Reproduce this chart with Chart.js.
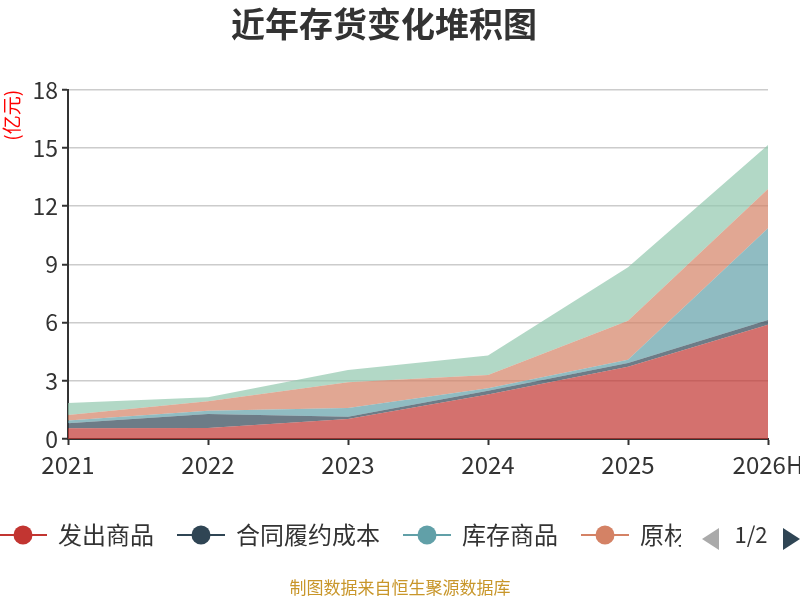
<!DOCTYPE html>
<html>
<head>
<meta charset="utf-8">
<script src="https://cdn.jsdelivr.net/npm/chart.js@4/dist/chart.umd.min.js"></script>
<style>
  html, body { margin: 0; padding: 0; background: #fff; }
  #wrap { width: 800px; height: 600px; }
</style>
</head>
<body>
<div id="wrap"><canvas id="invChart" width="800" height="600"></canvas></div>
<script>
var years = ['2021', '2022', '2023', '2024', '2025', '2026H'];
var faChuShangPin = [0.55, 0.57, 1.03, 2.30, 3.73, 5.89];
var heTongLvYue = [0.26, 0.72, 0.12, 0.19, 0.19, 0.24];
var kuCunShangPin = [0.14, 0.17, 0.45, 0.12, 0.17, 4.73];
var yuanCaiLiao = [0.29, 0.48, 1.32, 0.69, 2.01, 2.03];
var zaiChanPin = [0.62, 0.21, 0.64, 1.00, 2.75, 2.26];

var seriesNames = ['发出商品', '合同履约成本', '库存商品', '原材料', '在产品'];
var seriesData = [faChuShangPin, heTongLvYue, kuCunShangPin, yuanCaiLiao, zaiChanPin];
var seriesColors = ['#c23531', '#2f4554', '#61a0a8', '#d48265', '#91c7ae'];

var FONT = '"Noto Sans CJK SC", "Noto Sans", sans-serif';

function fade(hex, a) {
    var n = parseInt(hex.slice(1), 16);
    return 'rgba(' + (n >> 16) + ',' + ((n >> 8) & 255) + ',' + (n & 255) + ',' + a + ')';
}

// legend drawn by hand, cut off like a paged legend
var pagedLegend = {
    id: 'pagedLegend',
    afterDraw: function(chart) {
        var ctx = chart.ctx;
        var y = 535;
        ctx.save();
        ctx.beginPath();
        ctx.rect(0, 500, 681, 70);
        ctx.clip();
        ctx.font = '24px ' + FONT;
        ctx.textBaseline = 'middle';
        ctx.textAlign = 'left';
        var x = -1;
        chart.data.datasets.forEach(function(ds, i) {
            var c = seriesColors[i];
            ctx.strokeStyle = c;
            ctx.lineWidth = 2;
            ctx.beginPath();
            ctx.moveTo(x, y);
            ctx.lineTo(x + 48, y);
            ctx.stroke();
            ctx.fillStyle = c;
            ctx.beginPath();
            ctx.arc(x + 24, y, 9.5, 0, Math.PI * 2);
            ctx.fill();
            ctx.fillStyle = '#333';
            ctx.fillText(ds.label, x + 59, y);
            x = x + 59 + ctx.measureText(ds.label).width + 23;
        });
        ctx.restore();

        ctx.save();
        // page arrows
        ctx.fillStyle = '#aaa';
        ctx.beginPath();
        ctx.moveTo(702, y + 4);
        ctx.lineTo(719, y - 7);
        ctx.lineTo(719, y + 15);
        ctx.closePath();
        ctx.fill();
        ctx.fillStyle = '#2f4554';
        ctx.beginPath();
        ctx.moveTo(800, y + 4);
        ctx.lineTo(783, y - 7);
        ctx.lineTo(783, y + 15);
        ctx.closePath();
        ctx.fill();
        ctx.fillStyle = '#333';
        ctx.font = '22px ' + FONT;
        ctx.textAlign = 'center';
        ctx.textBaseline = 'middle';
        ctx.fillText('1/2', 751, y);

        ctx.fillStyle = '#c8962a';
        ctx.font = '17px ' + FONT;
        ctx.fillText('制图数据来自恒生聚源数据库', 400, 588);
        ctx.restore();
    }
};

var invChart = new Chart(document.getElementById('invChart'), {
    type: 'line',
    data: {
        labels: years,
        datasets: seriesData.map(function(d, i) {
            return {
                label: seriesNames[i],
                data: d,
                fill: i === 0 ? 'origin' : '-1',
                backgroundColor: fade(seriesColors[i], 0.7),
                borderColor: fade(seriesColors[i], 0.7),
                borderWidth: 0,
                pointRadius: 0,
                tension: 0
            };
        })
    },
    options: {
        responsive: false,
        animation: false,
        layout: { padding: { top: 0, left: 0, right: 32, bottom: 121 } },
        plugins: {
            legend: { display: false },
            tooltip: { enabled: false },
            title: {
                display: true,
                text: '近年存货变化堆积图',
                color: '#333',
                font: { size: 34, weight: 'bold', family: FONT },
                padding: { top: 4, bottom: 45 }
            }
        },
        scales: {
            x: {
                z: 1,
                afterFit: function(scale) {
                    scale.height = 40;
                    scale.paddingLeft = 0;
                    scale.paddingRight = 0;
                },
                grid: { drawOnChartArea: false, tickLength: 6, tickColor: '#333', tickWidth: 2 },
                border: { color: '#333', width: 2 },
                ticks: { color: '#333', font: { size: 24, family: FONT }, maxRotation: 0, autoSkip: false, padding: 5 }
            },
            y: {
                stacked: true,
                min: 0,
                max: 18,
                afterFit: function(scale) { scale.width = 68; },
                grid: { color: '#ccc', lineWidth: 1.5, tickLength: 6, tickColor: '#333', tickWidth: 2 },
                border: { color: '#333', width: 2 },
                ticks: { stepSize: 3, color: '#333', font: { size: 23, family: FONT }, padding: 4 },
                title: {
                    display: true,
                    text: '(亿元)',
                    color: 'red',
                    align: 'end',
                    font: { size: 19, family: FONT },
                    padding: { top: 0, bottom: 0 }
                }
            }
        }
    },
    plugins: [pagedLegend]
});
</script>
</body>
</html>
